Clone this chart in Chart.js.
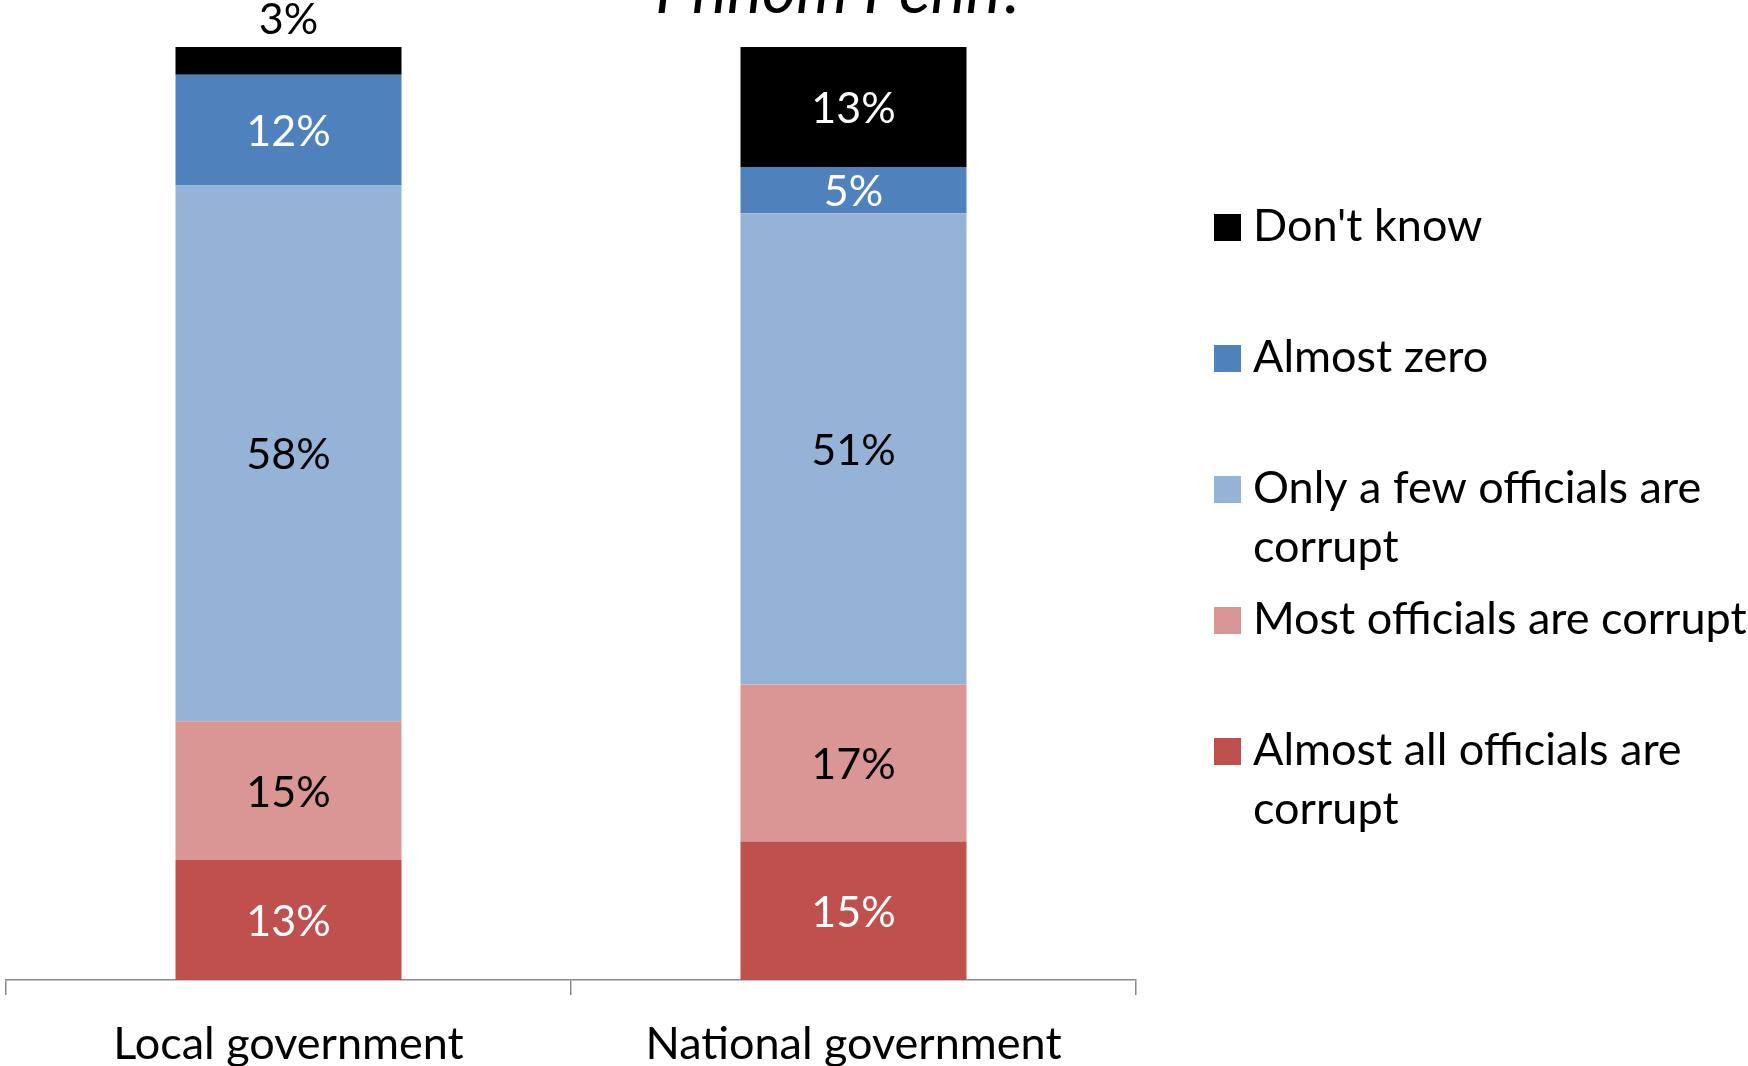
<!DOCTYPE html>
<html>
<head>
<meta charset="utf-8">
<script src="https://cdn.jsdelivr.net/npm/chart.js@4.4.1/dist/chart.umd.min.js"></script>
<style>
  html, body { margin: 0; padding: 0; background: #ffffff; }
  #wrap { width: 1748px; height: 1066px; position: relative; }
</style>
</head>
<body>
<div id="wrap"><canvas id="c" width="1748" height="1066"></canvas></div>
<script>
// ---- Data ----
const categories = ["Local government", "National government"];
const seriesNames = [
  "Almost all officials are corrupt",
  "Most officials are corrupt",
  "Only a few officials are corrupt",
  "Almost zero",
  "Don't know"
];
const almostAll = [13, 15];
const mostCorrupt = [15, 17];
const onlyFew = [58, 51];
const almostZero = [12, 5];
const dontKnow = [3, 13];
const titleText = "Phnom Penh?";

const seriesValues = [almostAll, mostCorrupt, onlyFew, almostZero, dontKnow];
const seriesColors = ["#C0504D", "#DA9694", "#95B3D7", "#4F81BD", "#000000"];
const labelColors = ["#FFFFFF", "#000000", "#000000", "#FFFFFF", "#FFFFFF"];

const FONT = "Lato, 'Liberation Sans', sans-serif";
const LABEL_SIZE = 43;
const TEXT_SIZE = 45;

const datasets = seriesNames.map((name, i) => ({
  label: name,
  data: seriesValues[i],
  backgroundColor: seriesColors[i],
  borderWidth: 0,
  barPercentage: 0.4,
  categoryPercentage: 1.0
}));

// Data labels drawn from bar elements
const barLabels = {
  id: 'barLabels',
  afterDatasetsDraw(chart) {
    const ctx = chart.ctx;
    ctx.save();
    ctx.font = `${LABEL_SIZE}px ${FONT}`;
    ctx.textAlign = 'center';
    ctx.textBaseline = 'middle';
    chart.data.datasets.forEach((ds, di) => {
      const meta = chart.getDatasetMeta(di);
      meta.data.forEach((el, i) => {
        const v = ds.data[i];
        const h = Math.abs(el.base - el.y);
        let y, color;
        if (h < 34) {
          y = el.y - 27;
          color = "#000000";
        } else {
          y = (el.y + el.base) / 2 + 2;
          color = labelColors[di];
        }
        ctx.fillStyle = color;
        ctx.fillText(v + '%', el.x, y);
      });
    });
    ctx.restore();
  }
};

// Legend on the right (top of stack listed first)
const sideLegend = {
  id: 'sideLegend',
  afterDraw(chart) {
    const ctx = chart.ctx;
    ctx.save();
    ctx.font = `${TEXT_SIZE}px ${FONT}`;
    ctx.textAlign = 'left';
    ctx.textBaseline = 'alphabetic';
    const boxX = 1214, boxSize = 27, textX = 1253, maxW = 494;
    const firstBaseline = 241, itemStep = 131, lineStep = 59;
    const n = chart.data.datasets.length;
    for (let k = 0; k < n; k++) {
      const di = n - 1 - k;
      const ds = chart.data.datasets[di];
      const base = firstBaseline + k * itemStep;
      ctx.fillStyle = ds.backgroundColor;
      ctx.fillRect(boxX, base - boxSize, boxSize, boxSize);
      const words = ds.label.split(' ');
      const lines = [];
      let cur = '';
      words.forEach(w => {
        const t = cur ? cur + ' ' + w : w;
        if (ctx.measureText(t).width > maxW && cur) { lines.push(cur); cur = w; }
        else cur = t;
      });
      if (cur) lines.push(cur);
      ctx.fillStyle = '#000000';
      lines.forEach((ln, li) => ctx.fillText(ln, textX, base + li * lineStep));
    }
    ctx.restore();
  }
};

// Title (cut off at the top of the picture)
const cutTitle = {
  id: 'cutTitle',
  afterDraw(chart) {
    const ctx = chart.ctx;
    ctx.save();
    ctx.font = `italic 66px ${FONT}`;
    ctx.textAlign = 'center';
    ctx.textBaseline = 'alphabetic';
    ctx.fillStyle = '#000000';
    ctx.fillText(titleText, 841, 13);
    ctx.restore();
  }
};

new Chart(document.getElementById('c'), {
  type: 'bar',
  data: { labels: categories, datasets },
  options: {
    responsive: false,
    animation: false,
    layout: { padding: { left: 6, right: 612, top: 47, bottom: 0 } },
    plugins: {
      legend: { display: false },
      title: { display: false },
      tooltip: { enabled: false }
    },
    scales: {
      x: {
        stacked: true,
        offset: true,
        afterFit(scale) { scale.height = 86; },
        border: { display: true, color: '#898989', width: 1.5 },
        grid: {
          display: true,
          offset: true,
          drawOnChartArea: false,
          drawTicks: true,
          tickLength: 15,
          color: '#898989',
          lineWidth: 1.5
        },
        ticks: {
          color: '#000000',
          padding: 27,
          font: { family: FONT, size: TEXT_SIZE, lineHeight: 1.0 }
        }
      },
      y: {
        stacked: true,
        display: false,
        min: 0,
        max: 101
      }
    }
  },
  plugins: [barLabels, sideLegend, cutTitle]
});
</script>
</body>
</html>
